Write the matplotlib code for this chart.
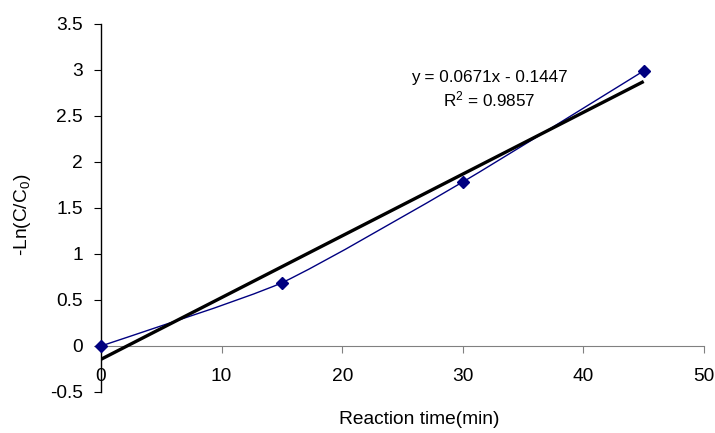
import numpy as np
import matplotlib
matplotlib.use("Agg")
import matplotlib.pyplot as plt
from matplotlib.path import Path
from matplotlib.patches import PathPatch

plt.rcParams['font.family'] = ['Liberation Sans', 'DejaVu Sans']
plt.rcParams['mathtext.default'] = 'regular'

# measured points
time_min = [0, 15, 30, 45]
ln_ratio = [0, 0.688, 1.783, 2.99]

# linear trendline
slope = 0.0671
intercept = -0.1447
r_squared = 0.9857

x_ticks = [0, 10, 20, 30, 40, 50]
y_ticks = [-0.5, 0, 0.5, 1, 1.5, 2, 2.5, 3, 3.5]

fig = plt.figure(figsize=(7.15, 4.33), dpi=100)
ax = fig.add_axes([0.1413, 0.0947, 0.8433, 0.85])

ax.set_xlim(0, 50)
ax.set_ylim(-0.5, 3.5)


def smooth_path(xs, ys, ax, k=10.0):
    # gently smoothed bezier through the points, built in display space
    pts = ax.transData.transform(np.column_stack([xs, ys]))
    n = len(pts)
    verts = [pts[0]]
    codes = [Path.MOVETO]
    for i in range(n - 1):
        p0 = pts[max(i - 1, 0)]
        p1 = pts[i]
        p2 = pts[i + 1]
        p3 = pts[min(i + 2, n - 1)]
        c1 = p1 + (p2 - p0) / k
        c2 = p2 - (p3 - p1) / k
        verts += [c1, c2, p2]
        codes += [Path.CURVE4] * 3
    verts = ax.transData.inverted().transform(np.array(verts))
    return Path(verts, codes)


ax.add_patch(PathPatch(smooth_path(time_min, ln_ratio, ax), facecolor='none',
                       edgecolor='#000080', lw=1.0, zorder=3))
ax.plot(time_min, ln_ratio, linestyle='none', marker='D', ms=6.5,
        color='#000080', zorder=4, clip_on=False)

fit_x = np.array([time_min[0], time_min[-1]])
ax.plot(fit_x, slope * fit_x + intercept, color='black', lw=2.4, zorder=3,
        solid_capstyle='butt')

ax.text(32.2, 2.92, 'y = %.4fx - %.4f' % (slope, -intercept), ha='center',
        va='center', fontsize=12.3)
ax.text(32.2, 2.68, 'R$^2$ = %.4f' % r_squared, ha='center', va='center',
        fontsize=12.3)

ax.spines['top'].set_visible(False)
ax.spines['right'].set_visible(False)
ax.spines['bottom'].set_position(('data', 0))
ax.spines['bottom'].set_color('#808080')
ax.spines['left'].set_linewidth(1.0)

ax.set_xticks(x_ticks)
ax.set_yticks(y_ticks)
ax.set_yticklabels(['%g' % v for v in y_ticks])
ax.tick_params(axis='x', direction='out', length=5, color='#808080',
               pad=10.5, labelsize=13.8)
ax.tick_params(axis='y', direction='out', length=5, pad=8, labelsize=13.8)

fig.text(0.586, 0.012, 'Reaction time(min)', ha='center', va='bottom',
         fontsize=13.8)
fig.text(0.031, 0.505, '-Ln(C/C$_0$)', rotation=90, ha='center',
         va='center', fontsize=13.8)

fig.savefig('out.png', dpi=100)
